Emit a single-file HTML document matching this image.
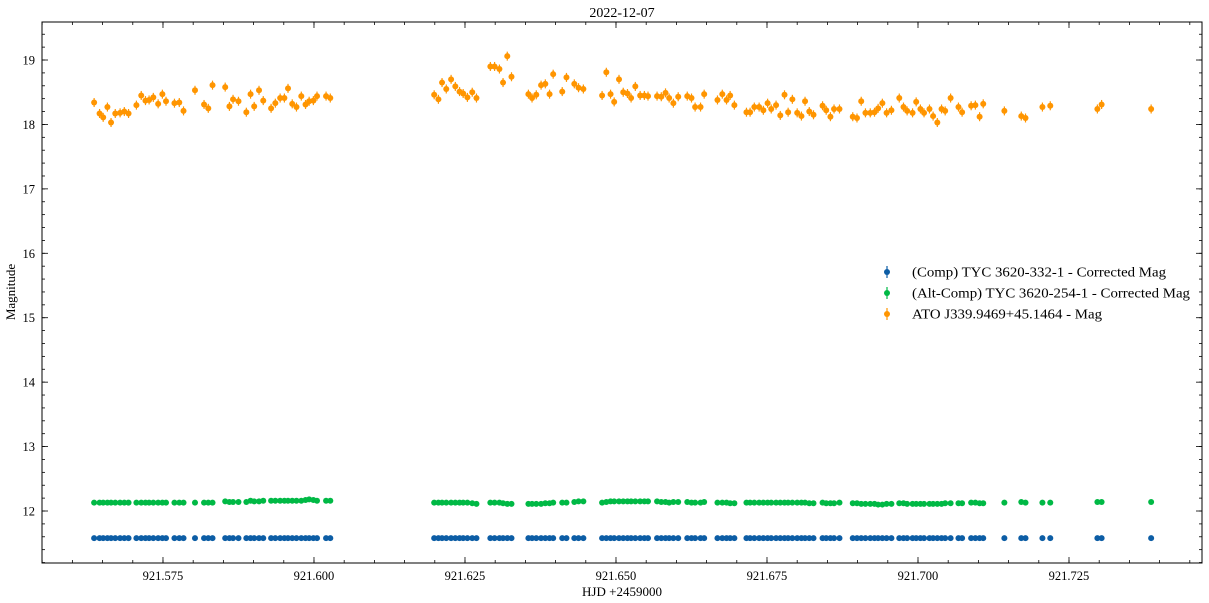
<!DOCTYPE html>
<html><head><meta charset="utf-8">
<style>
html,body{margin:0;padding:0;background:#fff;}
svg{display:block;font-family:"Liberation Serif",serif;}
</style></head>
<body>
<svg id="chart" width="1209" height="603" xmlns="http://www.w3.org/2000/svg"></svg>
<script>
const timesA = [921.5636,921.5645,921.5651,921.5658,921.5664,921.5671,921.5679,921.5686,921.5693,921.5706,921.5714,921.5721,921.5727,921.5734,921.5742,921.5749,921.5755,921.5769,921.5777,921.5784,921.5803,921.5818,921.5825,921.5832,921.5853,921.5860,921.5866,921.5875,921.5888,921.5895,921.5901,921.5909,921.5916,921.5929,921.5936,921.5944,921.5951,921.5957,921.5964,921.5971,921.5979,921.5986,921.5992,921.5999,921.6005,921.6020,921.6027];
const timesB = [921.6199,921.6206,921.6212,921.6219,921.6227,921.6234,921.6241,921.6247,921.6254,921.6262,921.6269,
921.6292,921.6299,921.6307,921.6313,921.6320,921.6327,
921.6355,921.6361,921.6368,921.6376,921.6383,921.6390,921.6396,
921.6411,921.6418,921.6431,921.6438,921.6446,
921.6477,921.6484,921.6491,921.6497,921.6505,921.6512,921.6519,921.6525,921.6532,921.6540,921.6547,921.6553,
921.6568,921.6575,921.6582,921.6588,921.6595,921.6603,
921.6618,921.6625,921.6631,921.6640,921.6646,
921.6668,921.6676,921.6683,921.6689,921.6696,
921.6716,921.6722,921.6729,921.6737,921.6744,921.6751,921.6757,921.6765,921.6772,921.6779,921.6785,921.6792,921.6800,921.6807,921.6813,921.6820,921.6827,
921.6842,921.6848,921.6855,921.6861,921.6870,
921.6892,921.6899,921.6906,921.6913,921.6921,921.6928,921.6934,921.6941,921.6948,921.6956,
921.6969,921.6976,921.6982,921.6991,921.6997,921.7004,921.7010,921.7019,921.7025,921.7032,921.7039,921.7045,921.7054,
921.7067,921.7073,
921.7088,921.7095,921.7102,921.7108,
921.7143,921.7171,921.7178,921.7206,921.7219,921.7297,921.7304,921.7386];
const targetMagA = [18.34,18.17,18.11,18.27,18.03,18.17,18.18,18.20,18.17,18.30,18.45,18.37,18.38,18.42,18.32,18.47,18.36,18.33,18.34,18.21,18.53,18.31,18.25,18.61,18.58,18.28,18.39,18.36,18.19,18.47,18.28,18.53,18.37,18.25,18.33,18.41,18.41,18.56,18.32,18.27,18.44,18.31,18.36,18.37,18.44,18.44,18.41];
const targetMagB = [18.46,18.39,18.65,18.55,18.70,18.59,18.51,18.48,18.42,18.50,18.41,
18.90,18.90,18.86,18.65,19.06,18.74,
18.47,18.41,18.46,18.61,18.63,18.47,18.78,
18.51,18.73,18.63,18.57,18.55,
18.45,18.81,18.47,18.35,18.70,18.50,18.48,18.41,18.59,18.45,18.45,18.44,
18.44,18.43,18.49,18.41,18.33,18.43,
18.44,18.41,18.27,18.27,18.47,
18.38,18.47,18.38,18.45,18.30,
18.19,18.19,18.27,18.27,18.22,18.33,18.24,18.30,18.14,18.46,18.19,18.39,18.18,18.13,18.36,18.20,18.15,
18.29,18.22,18.12,18.24,18.24,
18.12,18.10,18.36,18.18,18.18,18.19,18.25,18.33,18.18,18.22,
18.41,18.27,18.21,18.18,18.35,18.24,18.18,18.24,18.13,18.03,18.24,18.21,18.41,
18.27,18.19,
18.29,18.30,18.12,18.32,
18.21,18.13,18.10,18.27,18.29,18.24,18.31,18.24];
const altMagA = [12.13,12.13,12.13,12.13,12.13,12.13,12.13,12.13,12.13,12.13,12.13,12.13,12.13,12.13,12.13,12.13,12.13,12.13,12.13,12.13,12.13,12.13,12.13,12.13,12.15,12.14,12.14,12.14,12.14,12.16,12.15,12.15,12.16,12.16,12.16,12.16,12.16,12.16,12.16,12.16,12.16,12.17,12.18,12.17,12.16,12.16,12.16];
const altMagB = [12.13,12.13,12.13,12.13,12.13,12.13,12.13,12.13,12.13,12.12,12.11,
12.13,12.13,12.13,12.12,12.11,12.11,
12.11,12.11,12.11,12.11,12.12,12.12,12.13,
12.13,12.13,12.14,12.15,12.15,
12.13,12.14,12.15,12.15,12.15,12.15,12.15,12.15,12.15,12.15,12.15,12.15,
12.15,12.14,12.14,12.13,12.14,12.14,
12.14,12.13,12.13,12.13,12.14,
12.13,12.13,12.13,12.12,12.12,
12.13,12.13,12.13,12.13,12.13,12.13,12.13,12.13,12.13,12.13,12.13,12.13,12.13,12.13,12.13,12.12,12.12,
12.13,12.12,12.12,12.12,12.13,
12.12,12.12,12.11,12.11,12.11,12.11,12.10,12.10,12.11,12.11,
12.12,12.12,12.11,12.11,12.11,12.11,12.11,12.11,12.11,12.11,12.11,12.12,12.12,
12.12,12.12,
12.13,12.13,12.12,12.12,
12.13,12.14,12.13,12.13,12.13,12.14,12.14,12.14];
const compMagA = timesA.map(()=>11.58);
const compMagB = timesB.map(()=>11.58);
const xTicks = [921.575,921.600,921.625,921.650,921.675,921.700,921.725];
const xTickLabels = ["921.575","921.600","921.625","921.650","921.675","921.700","921.725"];
const yTicks = [12,13,14,15,16,17,18,19];
const targetErr = 0.07;
const altErr = 0.02;
const compErr = 0.01;

const NS="http://www.w3.org/2000/svg";
const svg=document.getElementById('chart');
const L=42,R=1202,T=22,B=563;
const xMin=921.55497,xMax=921.74702,yMin=11.193,yMax=19.59;
const sx=v=>L+(v-xMin)/(xMax-xMin)*(R-L);
const sy=v=>B-(v-yMin)/(yMax-yMin)*(B-T);
function mk(tag,attrs,parent){const e=document.createElementNS(NS,tag);for(const k in attrs)e.setAttribute(k,attrs[k]);(parent||svg).appendChild(e);return e;}

const frame=mk('rect',{x:L,y:T,width:R-L,height:B-T,fill:'none',stroke:'#000','stroke-width':1});



const ticks=mk('g',{stroke:'#000','stroke-width':0.8});


for(let v=921.555;v<=xMax;v+=0.005){const x=sx(v);
 mk('line',{x1:x,x2:x,y1:B,y2:B-3},ticks);mk('line',{x1:x,x2:x,y1:T,y2:T+3},ticks);}
xTicks.forEach((v,i)=>{const x=sx(v);
 mk('line',{x1:x,x2:x,y1:B,y2:B-6},ticks);mk('line',{x1:x,x2:x,y1:T,y2:T+6},ticks);
 const t=mk('text',{x:x,y:B+17,'text-anchor':'middle','font-size':12.5,fill:'#000'});
 t.textContent=xTickLabels[i];
 
 });
for(let v=11.2;v<=yMax;v+=0.2){const y=sy(v);
 mk('line',{x1:L,x2:L+3,y1:y,y2:y},ticks);mk('line',{x1:R,x2:R-3,y1:y,y2:y},ticks);}
yTicks.forEach(v=>{const y=sy(v);
 mk('line',{x1:L,x2:L+6,y1:y,y2:y},ticks);mk('line',{x1:R,x2:R-6,y1:y,y2:y},ticks);
 const t=mk('text',{x:L-7,y:y+4.5,'text-anchor':'end','font-size':12.5,fill:'#000'});
 t.textContent=String(v);
 
 });

const title=mk('text',{x:622,y:17,'text-anchor':'middle','font-size':14,fill:'#000'});
title.textContent='2022-12-07';


const xl=mk('text',{x:622,y:596,'text-anchor':'middle','font-size':13,fill:'#000'});
xl.textContent='HJD +2459000';


const yl=mk('text',{x:15,y:292,'text-anchor':'middle','font-size':13,fill:'#000',transform:'rotate(-90 15 292)'});
yl.textContent='Magnitude';



function series(times,mags,err,color,name){
 const g=mk('g',{fill:color,stroke:color});
 
 
 times.forEach((t,i)=>{const x=sx(t),y=sy(mags[i]);
  mk('line',{x1:x,x2:x,y1:sy(mags[i]+err),y2:sy(mags[i]-err),'stroke-width':1.2},g);
  const c=mk('circle',{cx:x,cy:y,r:3,stroke:'none'},g);
  
  });
}
series(timesA.concat(timesB),compMagA.concat(compMagB),compErr,'#0C5DA5','comp-series');
series(timesA.concat(timesB),altMagA.concat(altMagB),altErr,'#00B945','alt-comp-series');
series(timesA.concat(timesB),targetMagA.concat(targetMagB),targetErr,'#FF9500','target-series');

const leg=mk('g',{});


[['(Comp) TYC 3620-332-1 - Corrected  Mag','#0C5DA5',272,254],['(Alt-Comp) TYC 3620-254-1 - Corrected  Mag','#00B945',293,278],['ATO J339.9469+45.1464 - Mag','#FF9500',314,190]].forEach(e=>{
 const g=mk('g',{},leg);
 
 
 mk('line',{x1:887,x2:887,y1:e[2]-6,y2:e[2]+6,stroke:e[1],'stroke-width':1.2},g);
 mk('circle',{cx:887,cy:e[2],r:3,fill:e[1]},g);
 const t=mk('text',{x:912,y:e[2]+4.5,'font-size':13.5,fill:'#000',textLength:e[3],lengthAdjust:'spacingAndGlyphs'},g);
 t.textContent=e[0];
});
</script>
</body></html>
